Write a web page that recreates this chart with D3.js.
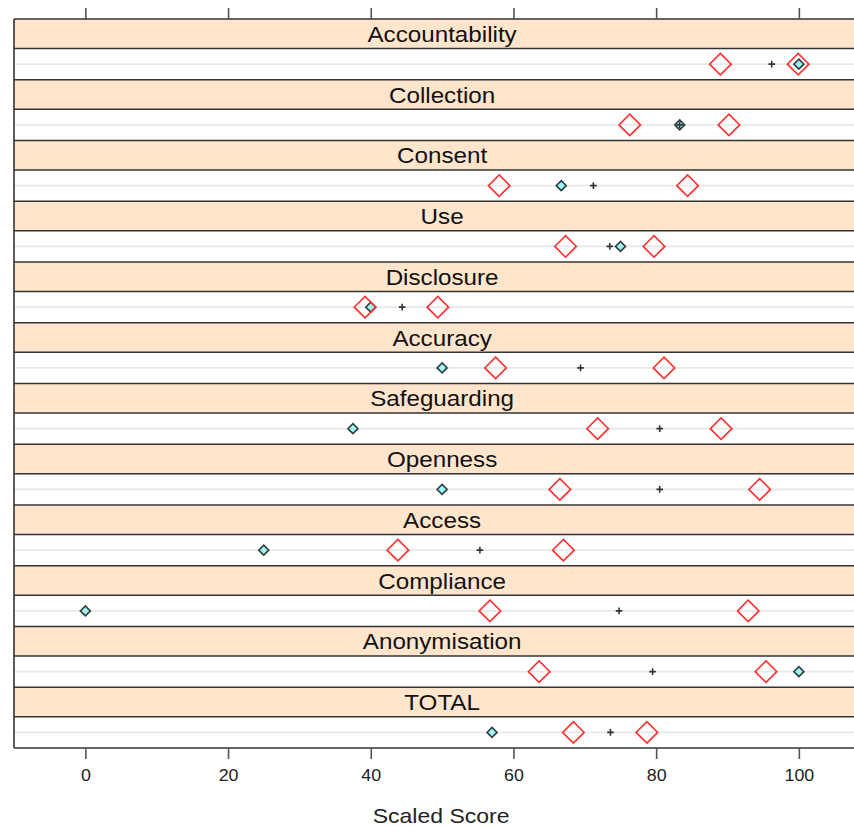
<!DOCTYPE html>
<html>
<head>
<meta charset="utf-8">
<script src="https://cdn.jsdelivr.net/npm/d3@7"></script>
<style>
  html, body { margin: 0; padding: 0; background: #ffffff; }
  svg { display: block; }
  text { font-family: "Liberation Sans", Arial, Helvetica, sans-serif; }
</style>
</head>
<body>
<svg id="chart" width="854" height="827"></svg>
<script>
// ---- data ----
const categories = ["Accountability", "Collection", "Consent", "Use", "Disclosure", "Accuracy",
  "Safeguarding", "Openness", "Access", "Compliance", "Anonymisation", "TOTAL"];
const scoreValues = [100, 83.3, 66.7, 75.0, 40.0, 50.0, 37.5, 50.0, 25.0, 0, 100, 57.0];   // teal diamonds
const meanValues  = [96.2, 83.3, 71.2, 73.5, 44.4, 69.4, 80.5, 80.5, 55.3, 74.8, 79.5, 73.6]; // small crosses
const lowerValues = [89.0, 76.3, 58.0, 67.3, 39.2, 57.5, 71.8, 66.5, 43.8, 56.7, 63.6, 68.4]; // red diamonds (low)
const upperValues = [99.9, 90.2, 84.4, 79.7, 49.4, 81.1, 89.1, 94.5, 67.0, 92.9, 95.4, 78.7]; // red diamonds (high)
const tickValues  = [0, 20, 40, 60, 80, 100];
const axisTitle = "Scaled Score";

// ---- layout ----
const svg = d3.select("#chart");
const plotLeft = 14, plotTop = 19, plotBottom = 748;
const x = d3.scaleLinear().domain([-10, 110]).range([plotLeft, plotLeft + 120 * 7.135]);
const band = d3.scaleBand().domain(categories).range([plotTop, plotBottom]).padding(0);
const stripFrac = 0.486;
const stripH = band.bandwidth() * stripFrac;
const rowY = c => band(c) + stripH + (band.bandwidth() - stripH) / 2;
const W = 880;

const rows = categories.map((c, i) => ({
  cat: c, score: scoreValues[i], mean: meanValues[i], lo: lowerValues[i], hi: upperValues[i]
}));

// panels
const panel = svg.append("g").selectAll("g.panel").data(rows).join("g").attr("class", "panel");

// strip backgrounds
panel.append("rect")
  .attr("x", plotLeft).attr("y", d => band(d.cat))
  .attr("width", W - plotLeft).attr("height", stripH)
  .attr("fill", "#ffe5cc");

// reference line
panel.append("line")
  .attr("x1", plotLeft).attr("x2", W)
  .attr("y1", d => rowY(d.cat)).attr("y2", d => rowY(d.cat))
  .attr("stroke", "#e8e8e8").attr("stroke-width", 1.6);

// strip borders
panel.append("line")
  .attr("x1", plotLeft).attr("x2", W)
  .attr("y1", d => band(d.cat)).attr("y2", d => band(d.cat))
  .attr("stroke", "#333").attr("stroke-width", 1.6);
panel.append("line")
  .attr("x1", plotLeft).attr("x2", W)
  .attr("y1", d => band(d.cat) + stripH).attr("y2", d => band(d.cat) + stripH)
  .attr("stroke", "#333").attr("stroke-width", 1.6);

// strip labels
panel.append("g")
  .attr("transform", d => `translate(${(x.range()[0] + x.range()[1]) / 2},${band(d.cat) + stripH / 2 + 8})`)
  .append("text")
  .attr("text-anchor", "middle")
  .attr("transform", "scale(1.1,1)")
  .attr("font-size", 22)
  .attr("fill", "#111")
  .text(d => d.cat);

// bottom border & left border
svg.append("line").attr("x1", plotLeft).attr("x2", W).attr("y1", plotBottom).attr("y2", plotBottom)
  .attr("stroke", "#333").attr("stroke-width", 1.6);
svg.append("line").attr("x1", plotLeft).attr("x2", plotLeft).attr("y1", plotTop).attr("y2", plotBottom)
  .attr("stroke", "#333").attr("stroke-width", 1.6);

// markers
const diamond = (cx, cy, r) => `M${cx},${cy - r}L${cx + r},${cy}L${cx},${cy + r}L${cx - r},${cy}Z`;

// teal diamonds
panel.append("path")
  .attr("d", d => diamond(x(d.score), rowY(d.cat), 5))
  .attr("fill", "#9ff5f5").attr("stroke", "#2f3f3f").attr("stroke-width", 1.6);

// crosses
panel.append("path")
  .attr("d", d => {
    const cx = x(d.mean), cy = rowY(d.cat), r = 3.3;
    return `M${cx - r},${cy}L${cx + r},${cy}M${cx},${cy - r}L${cx},${cy + r}`;
  })
  .attr("stroke", "#333").attr("stroke-width", 1.6).attr("fill", "none");

// red diamonds
["lo", "hi"].forEach(k => {
  panel.append("path")
    .attr("d", d => diamond(x(d[k]), rowY(d.cat), 10.8))
    .attr("fill", "none").attr("stroke", "#ff3030").attr("stroke-width", 1.6);
});

// axes
const topAxis = d3.axisTop(x).tickValues(tickValues).tickSize(11).tickSizeOuter(0).tickFormat("");
const gTop = svg.append("g").attr("transform", `translate(0,${plotTop})`).call(topAxis);
gTop.select(".domain").remove();
gTop.selectAll(".tick line").attr("stroke", "#555").attr("stroke-width", 1.6);

const botAxis = d3.axisBottom(x).tickValues(tickValues).tickSize(11).tickSizeOuter(0).tickPadding(10);
const gBot = svg.append("g").attr("transform", `translate(0,${plotBottom})`).call(botAxis);
gBot.select(".domain").remove();
gBot.selectAll(".tick line").attr("stroke", "#555").attr("stroke-width", 1.6);
gBot.selectAll(".tick text")
  .attr("font-family", "Liberation Sans, Arial, sans-serif")
  .attr("font-size", 17).attr("fill", "#222")
  .attr("transform", "scale(1.05,1)");

// axis title
svg.append("g")
  .attr("transform", `translate(${x(50) - 1},823)`)
  .append("text")
  .attr("text-anchor", "middle")
  .attr("transform", "scale(1.15,1)")
  .attr("font-size", 20).attr("fill", "#222")
  .text(axisTitle);
</script>
</body>
</html>
